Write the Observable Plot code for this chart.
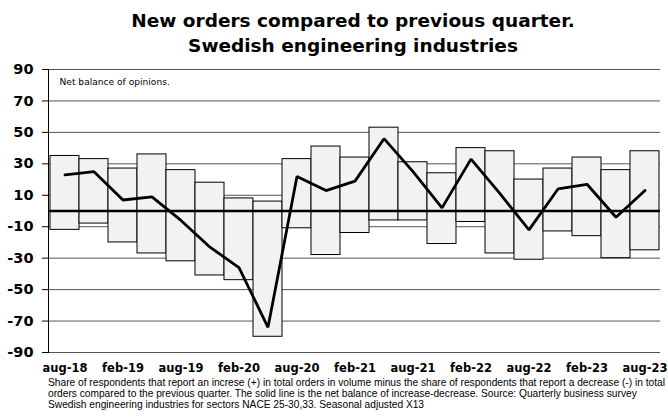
<!DOCTYPE html>
<html>
<head>
<meta charset="utf-8">
<script src="https://cdn.jsdelivr.net/npm/d3@7"></script>
<script src="https://cdn.jsdelivr.net/npm/@observablehq/plot@0.6"></script>
<style>
  body { margin: 0; background: #fff; }
  #wrap { width: 668px; height: 418px; overflow: hidden; position: relative; font-family: "DejaVu Sans", sans-serif; color: #000; }
  #title { height: 58px; box-sizing: border-box; padding-top: 8px; padding-left: 38px; text-align: center; font-weight: bold; font-size: 18.5px; line-height: 25px; }
  #chart svg { display: block; }
  #caption { position: absolute; left: 48px; top: 377px; font-family: "Liberation Sans", Arial, sans-serif; font-size: 9px; line-height: 11px; white-space: nowrap; }
</style>
</head>
<body>
<div id="wrap">
  <div id="title">New orders compared to previous quarter.<br>Swedish engineering industries</div>
  <div id="chart"></div>
  <div id="caption"><span id="cap1">Share of respondents that report an increse (+) in total orders in volume minus the share of respondents that report a decrease (-) in total</span><br>orders compared to the previous quarter. The solid line is the net balance of increase-decrease. Source: Quarterly business survey<br>Swedish engineering industries for sectors NACE 25-30,33. Seasonal adjusted X13</div>
</div>
<script>
const quarters = ["aug-18","nov-18","feb-19","may-19","aug-19","nov-19","feb-20","may-20","aug-20","nov-20","feb-21","may-21","aug-21","nov-21","feb-22","may-22","aug-22","nov-22","feb-23","may-23","aug-23"];
const increase = [35,33,27,36,26,18,8,6,33,41,34,53,31,24,40,38,20,27,34,26,38];
const decrease = [-12,-8,-20,-27,-32,-41,-44,-80,-11,-28,-14,-6,-6,-21,-7,-27,-31,-13,-16,-30,-25];
const netBalance = [23,25,7,9,-6,-23,-36,-74,22,13,19,46,25,2,33,11,-12,14,17,-4,13];
const yTicks = [-90,-70,-50,-30,-10,10,30,50,70,90];
const xTickLabels = ["aug-18","feb-19","aug-19","feb-20","aug-20","feb-21","aug-21","feb-22","aug-22","feb-23","aug-23"];
const note = "Net balance of opinions.";

const data = quarters.map((q, i) => ({q, inc: increase[i], dec: decrease[i], net: netBalance[i]}));

const chart = Plot.plot({
  width: 668,
  height: 318,
  marginLeft: 48,
  marginRight: 8,
  marginTop: 11,
  marginBottom: 24,
  style: {fontFamily: "DejaVu Sans, sans-serif", color: "#000", background: "#fff"},
  x: {type: "band", domain: quarters, padding: 0, label: null},
  y: {domain: [-90, 90], label: null},
  marks: [
    Plot.ruleY(yTicks, {stroke: "#555", strokeWidth: 1}),
    Plot.barY(data, {x: "q", y1: "dec", y2: "inc", fill: "#f2f2f2", stroke: "#000", strokeWidth: 1, inset: 0}),
    Plot.ruleY([0], {stroke: "#000", strokeWidth: 2.5}),
    Plot.line(data, {x: "q", y: "net", stroke: "#000", strokeWidth: 2.8, strokeLinejoin: "miter"}),
    Plot.frame({anchor: "left", stroke: "#000", strokeWidth: 1}),
    Plot.axisY({ticks: yTicks, tickFormat: d => String(d), tickSize: 6, tickPadding: 9, fontSize: 14.5, fontWeight: "bold", stroke: "#000", label: null}),
    Plot.axisX({ticks: xTickLabels, tickSize: 0, tickPadding: 11, fontSize: 11.5, fontWeight: "bold", label: null}),
    Plot.text([note], {frameAnchor: "top-left", dx: 11, dy: 9, fontSize: 9.1, lineAnchor: "top", textAnchor: "start"})
  ]
});
document.getElementById("chart").append(chart);

// fit caption first line to reference width
const cap = document.getElementById("caption");
const w = document.getElementById("cap1").getBoundingClientRect().width;
cap.style.fontSize = (9 * 618 / w) + "px";
</script>
</body>
</html>
